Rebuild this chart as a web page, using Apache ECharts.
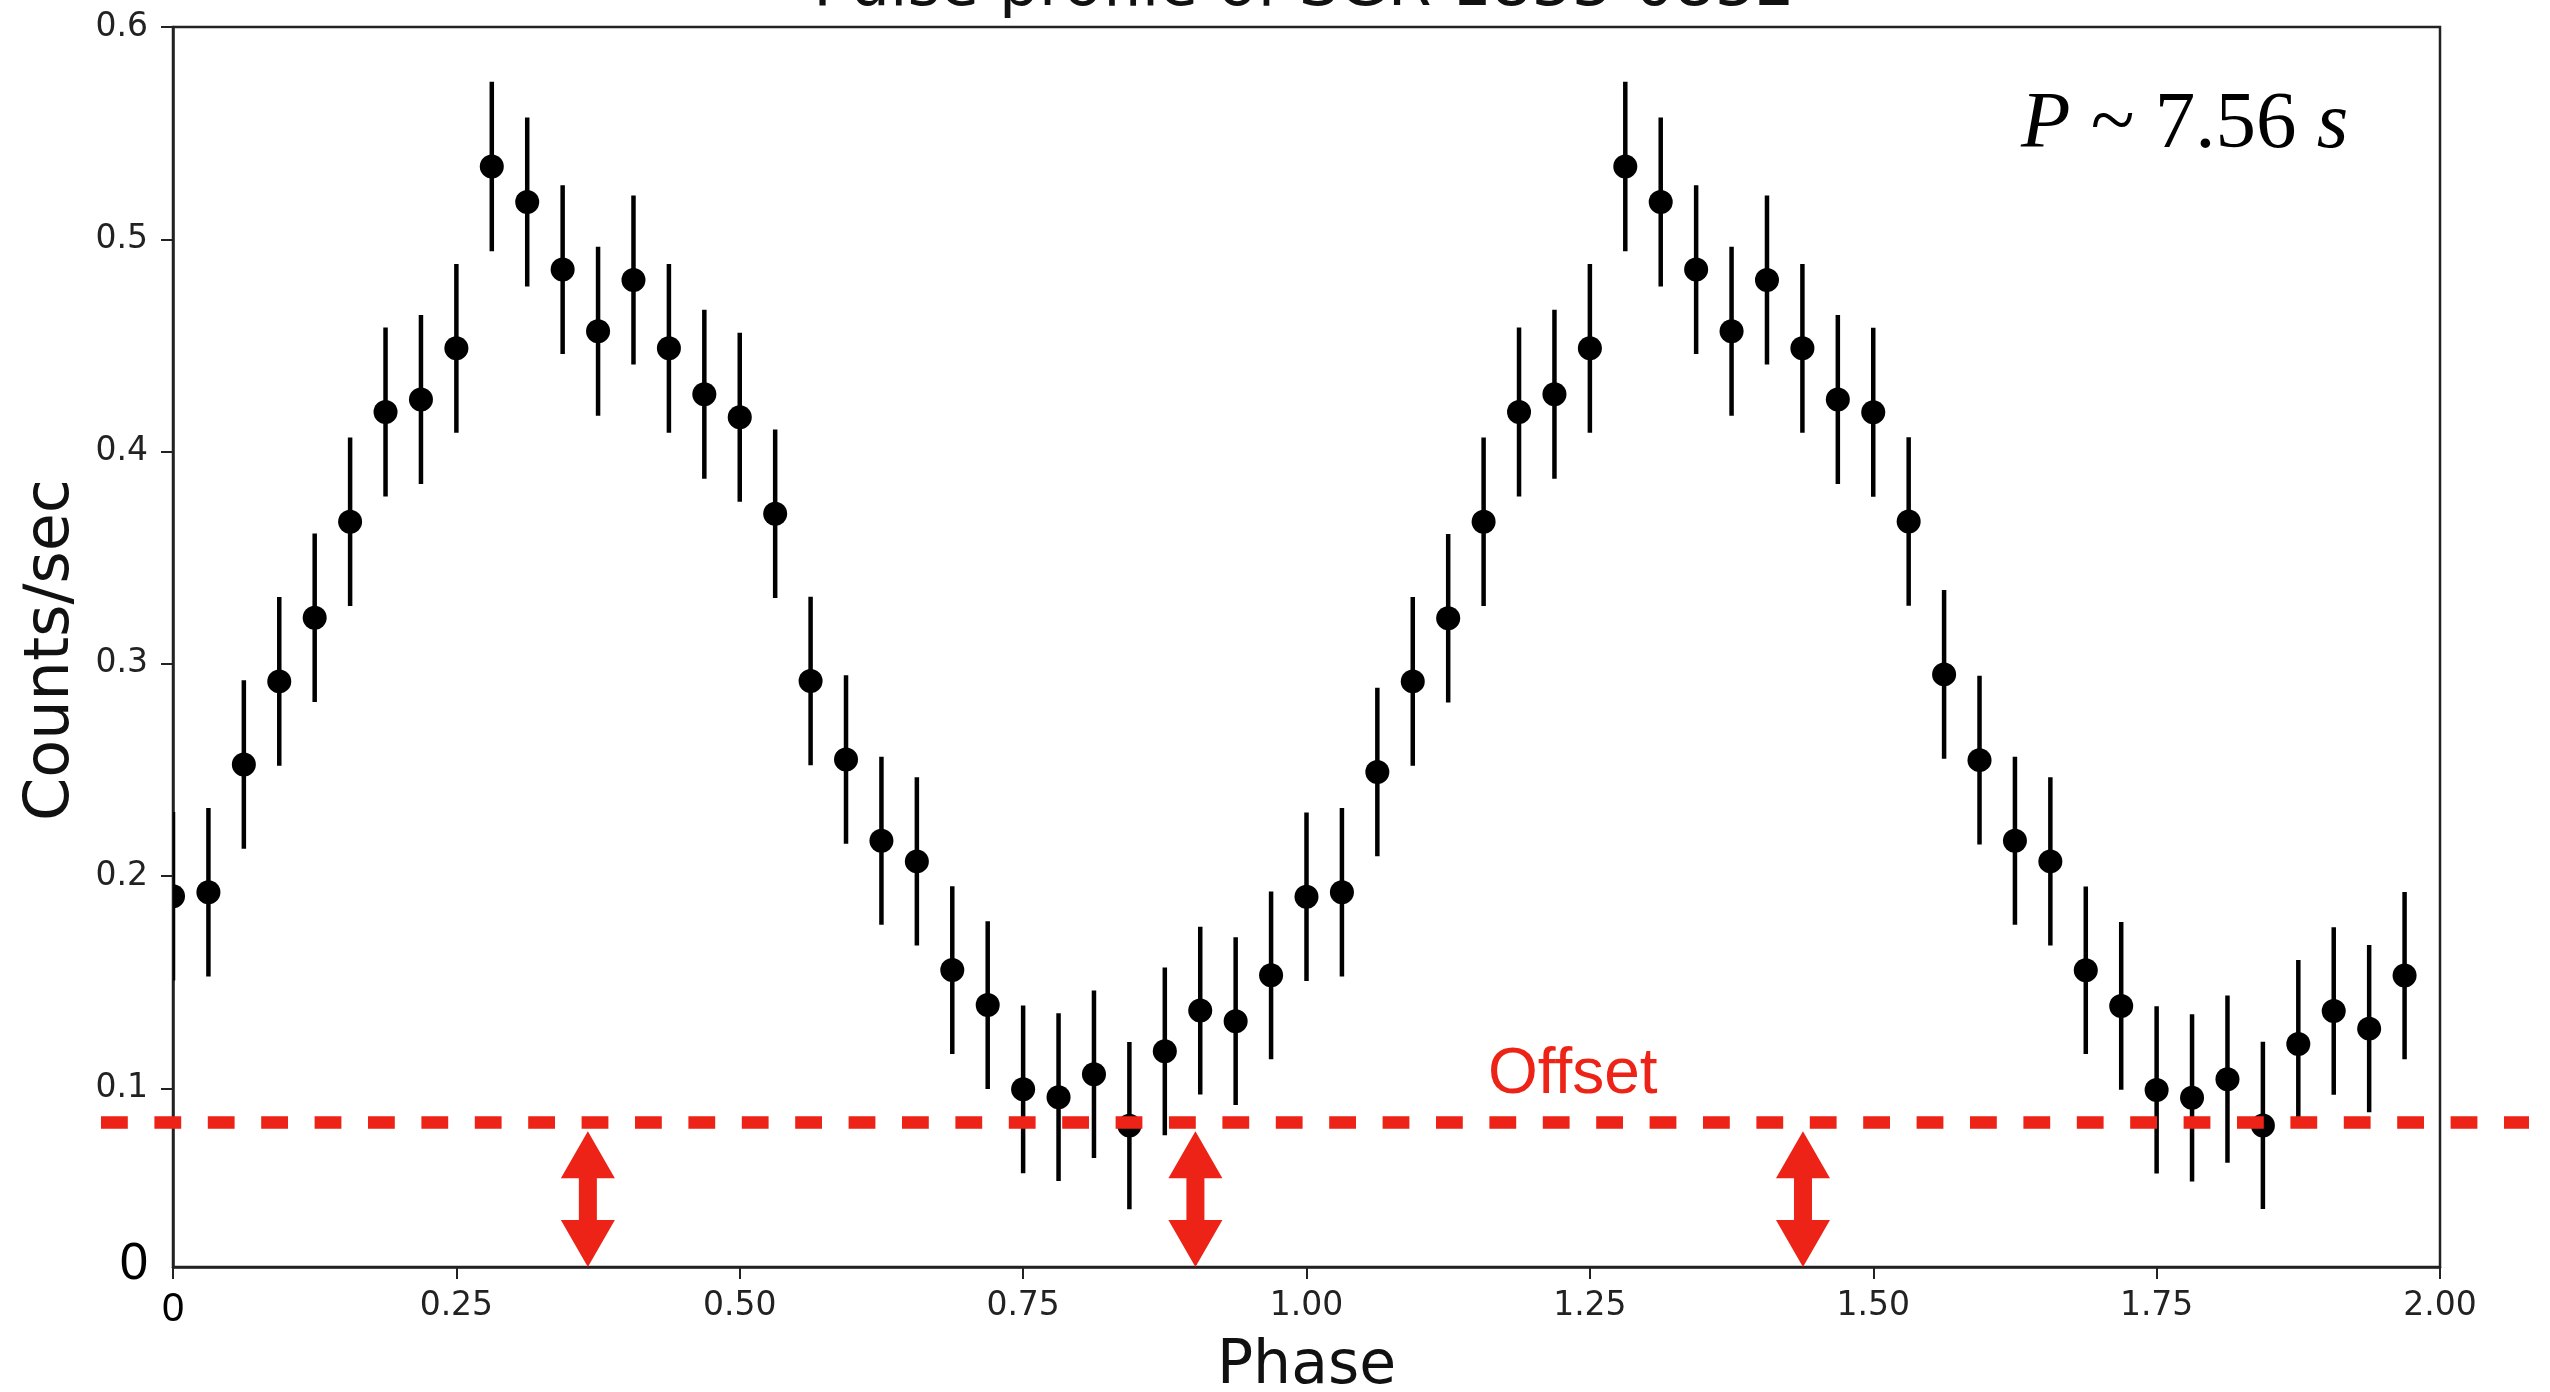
<!DOCTYPE html>
<html>
<head>
<meta charset="utf-8">
<title>Pulse profile of SGR 1833-0832</title>
<script src="https://cdn.jsdelivr.net/npm/echarts@6/dist/echarts.min.js"></script>
<style>
  html, body { margin: 0; padding: 0; background: #ffffff; }
  #chart { width: 2550px; height: 1392px; }
</style>
</head>
<body>
<div id="chart"></div>
<script>
// Phase bins (two cycles, 32 bins per cycle)
const phase = [
  0.00000, 0.03125, 0.06250, 0.09375, 0.12500, 0.15625, 0.18750, 0.21875,
  0.25000, 0.28125, 0.31250, 0.34375, 0.37500, 0.40625, 0.43750, 0.46875,
  0.50000, 0.53125, 0.56250, 0.59375, 0.62500, 0.65625, 0.68750, 0.71875,
  0.75000, 0.78125, 0.81250, 0.84375, 0.87500, 0.90625, 0.93750, 0.96875,
  1.00000, 1.03125, 1.06250, 1.09375, 1.12500, 1.15625, 1.18750, 1.21875,
  1.25000, 1.28125, 1.31250, 1.34375, 1.37500, 1.40625, 1.43750, 1.46875,
  1.50000, 1.53125, 1.56250, 1.59375, 1.62500, 1.65625, 1.68750, 1.71875,
  1.75000, 1.78125, 1.81250, 1.84375, 1.87500, 1.90625, 1.93750, 1.96875
];

// Count rate per bin (counts/sec)
const counts = [
  0.1905, 0.1924, 0.2525, 0.2917, 0.3217, 0.3669, 0.4186, 0.4245,
  0.4486, 0.5343, 0.5176, 0.4857, 0.4567, 0.4808, 0.4486, 0.4270,
  0.4161, 0.3707, 0.2919, 0.2549, 0.2166, 0.2069, 0.1557, 0.1392,
  0.0995, 0.0958, 0.1066, 0.0824, 0.1174, 0.1366, 0.1316, 0.1532,
  0.1902, 0.1924, 0.2490, 0.2917, 0.3214, 0.3669, 0.4186, 0.4270,
  0.4486, 0.5343, 0.5176, 0.4857, 0.4567, 0.4808, 0.4486, 0.4245,
  0.4185, 0.3670, 0.2950, 0.2546, 0.2166, 0.2069, 0.1556, 0.1388,
  0.0992, 0.0955, 0.1043, 0.0825, 0.1209, 0.1364, 0.1281, 0.1531
];

// 1-sigma errors on the count rate
const countErr = [
  0.0397, 0.0397, 0.0397, 0.0397, 0.0397, 0.0397, 0.0398, 0.0398,
  0.0398, 0.0399, 0.0398, 0.0398, 0.0398, 0.0398, 0.0398, 0.0398,
  0.0398, 0.0397, 0.0397, 0.0397, 0.0396, 0.0396, 0.0395, 0.0395,
  0.0395, 0.0395, 0.0395, 0.0394, 0.0395, 0.0395, 0.0395, 0.0395,
  0.0397, 0.0397, 0.0397, 0.0397, 0.0397, 0.0397, 0.0398, 0.0398,
  0.0398, 0.0399, 0.0398, 0.0398, 0.0398, 0.0398, 0.0398, 0.0398,
  0.0398, 0.0397, 0.0397, 0.0397, 0.0396, 0.0396, 0.0395, 0.0395,
  0.0394, 0.0394, 0.0394, 0.0394, 0.0395, 0.0395, 0.0394, 0.0394
];

// Background (unpulsed) level and the arrows marking it
const offsetLevel = 0.0839;
const arrowPhases = [0.366, 0.902, 1.438];
const arrowTip = 0.0797;

// Axis ranges and ticks
const yFloor = 0.0158;
const yCeil = 0.6;
const yTickValues = [0.1, 0.2, 0.3, 0.4, 0.5, 0.6];
const xMin = 0, xMax = 2, xStep = 0.25;

const titleText = 'Pulse profile of SGR 1833-0832';
const xName = 'Phase';
const yName = 'Counts/sec';
const offsetText = 'Offset';

const RED = '#ec2316';
const INK = '#222222';

const chart = echarts.init(document.getElementById('chart'), null, { renderer: 'canvas' });

const option = {
  animation: false,
  backgroundColor: '#ffffff',
  grid: [
    { left: 173, right: 110, top: 27, bottom: 125, show: true,
      containLabel: false, outerBoundsMode: 'none',
      borderColor: INK, borderWidth: 2.5, backgroundColor: 'transparent' },
    { left: 101, right: 21, top: 27, bottom: 125, show: false,
      containLabel: false, outerBoundsMode: 'none' }
  ],
  xAxis: [
    {
      gridIndex: 0, type: 'value', min: xMin, max: xMax, interval: xStep,
      axisLine: { show: true, lineStyle: { color: INK, width: 2.5 } },
      axisTick: { show: true, length: 12, lineStyle: { color: INK, width: 2 } },
      splitLine: { show: false },
      axisLabel: {
        margin: 23, color: INK, fontFamily: 'DejaVu Sans', fontSize: 33,
        formatter: v => (v === 0 ? '{z|0}' : v.toFixed(2)),
        rich: { z: { fontFamily: 'Liberation Sans', fontSize: 40, color: '#000' } }
      },
      name: xName, nameLocation: 'middle', nameGap: 70,
      nameTextStyle: { fontFamily: 'DejaVu Sans', fontSize: 60, color: '#111' }
    },
    { gridIndex: 1, type: 'value', min: 0, max: 1, show: false }
  ],
  yAxis: [
    {
      gridIndex: 0, type: 'value', min: yFloor, max: yCeil,
      axisLine: { show: true, lineStyle: { color: INK, width: 2.5 } },
      axisTick: { show: true, length: 12, lineStyle: { color: INK, width: 2 },
                  customValues: yTickValues },
      splitLine: { show: false },
      axisLabel: {
        margin: 25, color: INK, fontFamily: 'DejaVu Sans', fontSize: 33,
        customValues: [yFloor].concat(yTickValues),
        formatter: v => (v < 0.05 ? '{z|0}' : v.toFixed(1)),
        rich: { z: { fontFamily: 'Liberation Sans', fontSize: 51, color: '#000',
                     padding: [0, 0, 5, 0] } }
      }
    },
    { gridIndex: 1, type: 'value', min: yFloor, max: yCeil, show: false }
  ],
  series: [
    {
      // data points with vertical error bars
      type: 'custom',
      xAxisIndex: 0, yAxisIndex: 0,
      clip: true,
      z: 3,
      data: phase.map((p, i) => [p, counts[i], countErr[i]]),
      encode: { x: 0, y: 1 },
      renderItem: (params, api) => {
        const x = api.value(0), y = api.value(1), e = api.value(2);
        const hi = api.coord([x, y + e]);
        const lo = api.coord([x, y - e]);
        const c = api.coord([x, y]);
        return {
          type: 'group',
          children: [
            { type: 'line', shape: { x1: hi[0], y1: hi[1], x2: lo[0], y2: lo[1] },
              style: { stroke: '#000', lineWidth: 4.5 } },
            { type: 'circle', shape: { cx: c[0], cy: c[1], r: 12 },
              style: { fill: '#000' } }
          ]
        };
      }
    },
    {
      // offset level, running across the whole figure width
      type: 'line',
      xAxisIndex: 1, yAxisIndex: 1,
      data: [[0, offsetLevel], [1, offsetLevel]],
      symbol: 'none',
      silent: true,
      clip: false,
      z: 6,
      lineStyle: { color: RED, width: 12.5, type: [26.8, 26.6], cap: 'butt' }
    },
    {
      // double-headed arrows from the floor up to the offset level
      type: 'custom',
      xAxisIndex: 0, yAxisIndex: 0,
      z: 6,
      data: arrowPhases.map(p => [p, yFloor, arrowTip]),
      encode: { x: 0, y: [1, 2] },
      renderItem: (params, api) => {
        const x = api.value(0);
        const bottom = api.coord([x, api.value(1)]);
        const top = api.coord([x, api.value(2)]);
        const cx = top[0];
        const headH = 47, headW = 27, shaftW = 9;
        const t = top[1], b = bottom[1];
        return {
          type: 'polygon',
          shape: { points: [
            [cx, t], [cx + headW, t + headH], [cx + shaftW, t + headH],
            [cx + shaftW, b - headH], [cx + headW, b - headH], [cx, b],
            [cx - headW, b - headH], [cx - shaftW, b - headH],
            [cx - shaftW, t + headH], [cx - headW, t + headH]
          ] },
          style: { fill: RED }
        };
      }
    }
  ],
  graphic: [
    {
      type: 'text', x: 1304, y: -11.2, silent: true,
      style: { text: titleText, fontFamily: 'DejaVu Sans', fontSize: 63, fill: '#111',
               align: 'center', verticalAlign: 'middle' }
    },
    {
      type: 'text', x: 51.5, y: 650, rotation: Math.PI / 2, silent: true,
      style: { text: yName, fontFamily: 'DejaVu Sans', fontSize: 62, fill: '#111',
               align: 'center', verticalAlign: 'middle' }
    },
    {
      type: 'text', x: 1488, y: 1075, silent: true, z: 10,
      style: { text: offsetText, fontFamily: 'Liberation Sans', fontSize: 64, fill: RED,
               align: 'left', verticalAlign: 'middle' }
    },
    {
      type: 'text', x: 2021, y: 126, silent: true, z: 10,
      style: {
        text: '{i|P} ~ 7.56 {i|s}',
        fontFamily: 'Liberation Serif', fontSize: 81, fill: '#000',
        align: 'left', verticalAlign: 'middle',
        rich: { i: { fontFamily: 'Liberation Serif', fontStyle: 'italic', fontSize: 81, fill: '#000' } }
      }
    }
  ]
};

chart.setOption(option);
</script>
</body>
</html>
